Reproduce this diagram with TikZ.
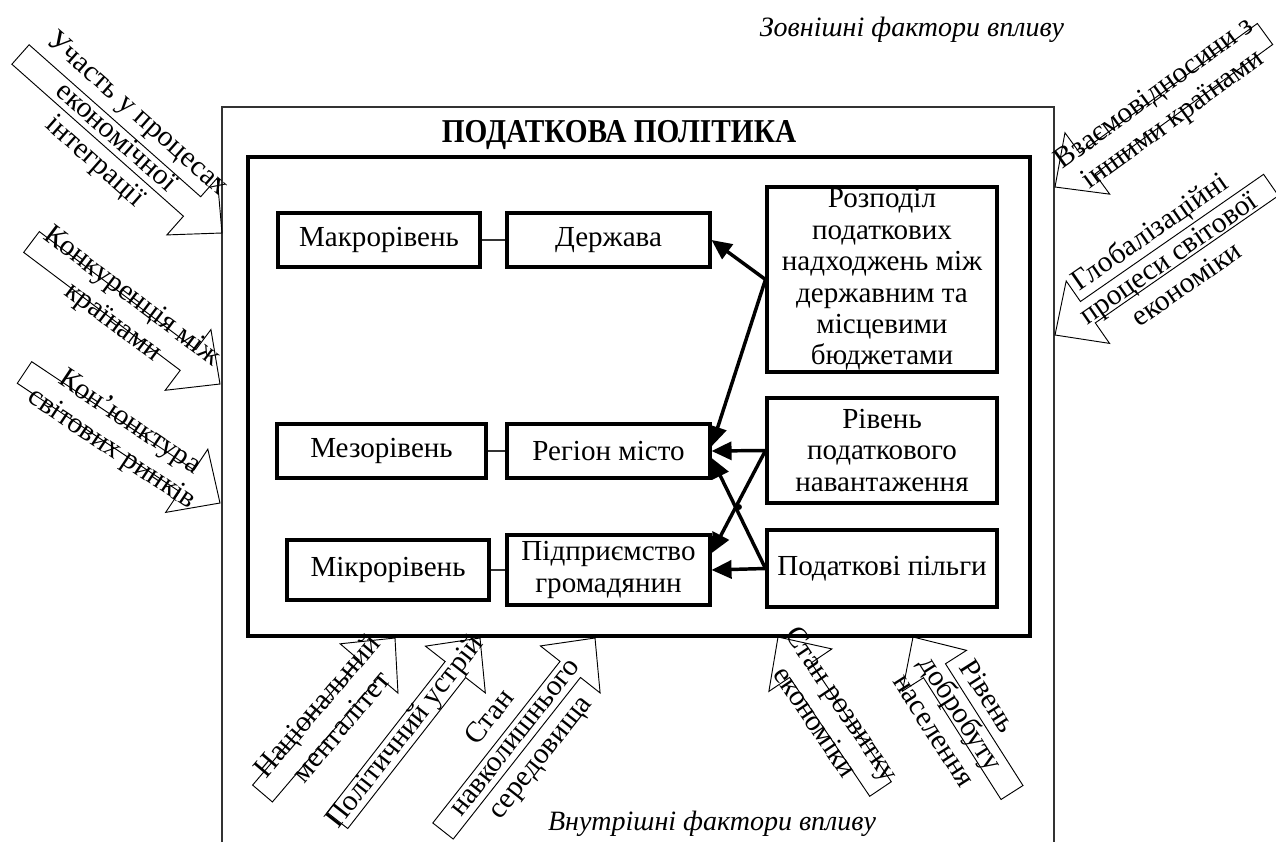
\documentclass[tikz,border=0pt]{standalone}
\usepackage{fontspec}
\setmainfont{Liberation Serif}
\newfontfamily\titlefont{Liberation Serif}[FakeStretch=0.88]
\usetikzlibrary{calc,arrows.meta}
\newcommand\bfs{\fontsize{21.8}{23.6}\selectfont}
\newcommand\afs{\fontsize{22}{24}\selectfont}
\newcommand\blockarr[5]{%
  \coordinate (#1t) at (#2);
  \coordinate (#1p) at (#3);
  \coordinate (#1h) at ($(#1p)!30pt!(#1t)$);
  \draw[barr] ($(#1t)!9.75pt!90:(#1p)$) -- ($(#1h)!9.75pt!90:(#1p)$) -- ($(#1h)!28.5pt!90:(#1p)$) -- (#1p) -- ($(#1h)!28.5pt!-90:(#1p)$) -- ($(#1h)!9.75pt!-90:(#1p)$) -- ($(#1t)!9.75pt!-90:(#1p)$) -- cycle;
  \path (#1t) -- (#1p) node[pos=#4, sloped, atext] (#1l) {#5};
}
\begin{document}
\begin{tikzpicture}[x=0.75pt,y=-0.75pt,
  box/.style={draw, line width=2.3pt, align=center, font=\bfs, inner sep=0pt},
  atext/.style={align=center, font=\afs, inner sep=0pt},
  barr/.style={draw, line width=0.7pt, line join=miter},
  thinline/.style={line width=0.8pt, black!80},
  conn/.style={line width=2.6pt, -{Triangle[length=15pt,width=13.5pt]}},
  lbl/.style={font=\fontsize{21}{24}\selectfont\itshape, inner sep=0pt}]
\useasboundingbox (0,0) rectangle (1276,842);

% outer frame
\draw[thinline] (222,842) -- (222,107) -- (1054,107) -- (1054,842);
% inner frame
\node[draw, line width=3.4pt, minimum width=586.5pt, minimum height=359.25pt, inner sep=0pt] (inner) at (639,396.5) {};
\node[font=\titlefont\fontsize{25}{28}\selectfont\bfseries, inner sep=0pt] (title) at (619,135) {ПОДАТКОВА ПОЛІТИКА};

% boxes
\node[box, minimum width=151.5pt, minimum height=40.5pt] (makro) at (379,240) {Макрорівень};
\node[box, minimum width=152.25pt, minimum height=40.5pt] (derzh) at (608.5,240) {Держава};
\node[box, minimum width=156.75pt, minimum height=40.5pt] (mezo) at (381.5,451) {Мезорівень};
\node[box, minimum width=152.25pt, minimum height=40.5pt] (reg) at (608.5,451) {Регіон місто};
\node[box, minimum width=151.5pt, minimum height=45pt] (mikro) at (388,570) {Мікрорівень};
\node[box, minimum width=152.25pt, minimum height=52.5pt] (pidp) at (608.5,570) {Підприємство\\громадянин};
\node[box, minimum width=172.5pt, minimum height=138.75pt] (rozp) at (882,279.5) {Розподіл\\податкових\\надходжень між\\державним та\\місцевими\\бюджетами};
\node[box, minimum width=172.5pt, minimum height=78.75pt] (riv) at (882,450.5) {Рівень\\податкового\\навантаження};
\node[box, minimum width=172.5pt, minimum height=57.75pt] (pilg) at (882,568.5) {Податкові пільги};

% thin links
\draw[thinline] (makro) -- (derzh);
\draw[thinline] (mezo) -- (reg);
\draw[thinline] (mikro) -- (pidp);

% arrows
\draw[conn] (rozp.west) -- (derzh.east);
\draw[conn] (rozp.west) -- ($(reg.north east)!0.42!(reg.south east)$);
\draw[conn] (riv.west) -- (reg.east);
\draw[conn] (riv.west) -- ($(pidp.north east)!0.27!(pidp.south east)$);
\draw[conn] (pilg.west) -- ($(reg.north east)!0.62!(reg.south east)$);
\draw[conn] (pilg.west) -- (pidp.east);
\coordinate (cross) at (739,507);
\fill (cross) circle (2.2pt);

% block arrows
\blockarr{a1}{20.5,54.5}{222,233}{0.47}{Участь у процесах\\економічної\\інтеграції}
\blockarr{a2}{31.5,242}{220,384}{0.48}{Конкуренція між\\країнами}
\blockarr{a3}{24.5,372.5}{220,503}{0.49}{Кон’юнктура\\світових ринків}
\blockarr{a4}{1265,34}{1055,187}{0.48}{Взаємовідносини з\\іншими країнами}
\blockarr{a5}{1271,185}{1055,335}{0.48}{Глобалізаційні\\процеси світової\\економіки}
\blockarr{a6}{262.5,793.5}{395,638}{0.5}{Національний\\менталітет}
\blockarr{a7}{337.5,820.5}{480,638}{0.48}{Політичний устрій}
\blockarr{a8}{443,831}{595,638}{0.48}{Стан\\навколишнього\\середовища}
\blockarr{a9}{880.5,789}{778,637}{0.5}{Стан розвитку\\економіки}
\blockarr{a10}{1012,792.5}{913,637}{0.51}{Рівень\\добробуту\\населення}

% labels
\node[lbl] (ext) at (912,30) {Зовнішні фактори впливу};
\node[lbl] (int) at (712,824) {Внутрішні фактори впливу};
\end{tikzpicture}
\end{document}
